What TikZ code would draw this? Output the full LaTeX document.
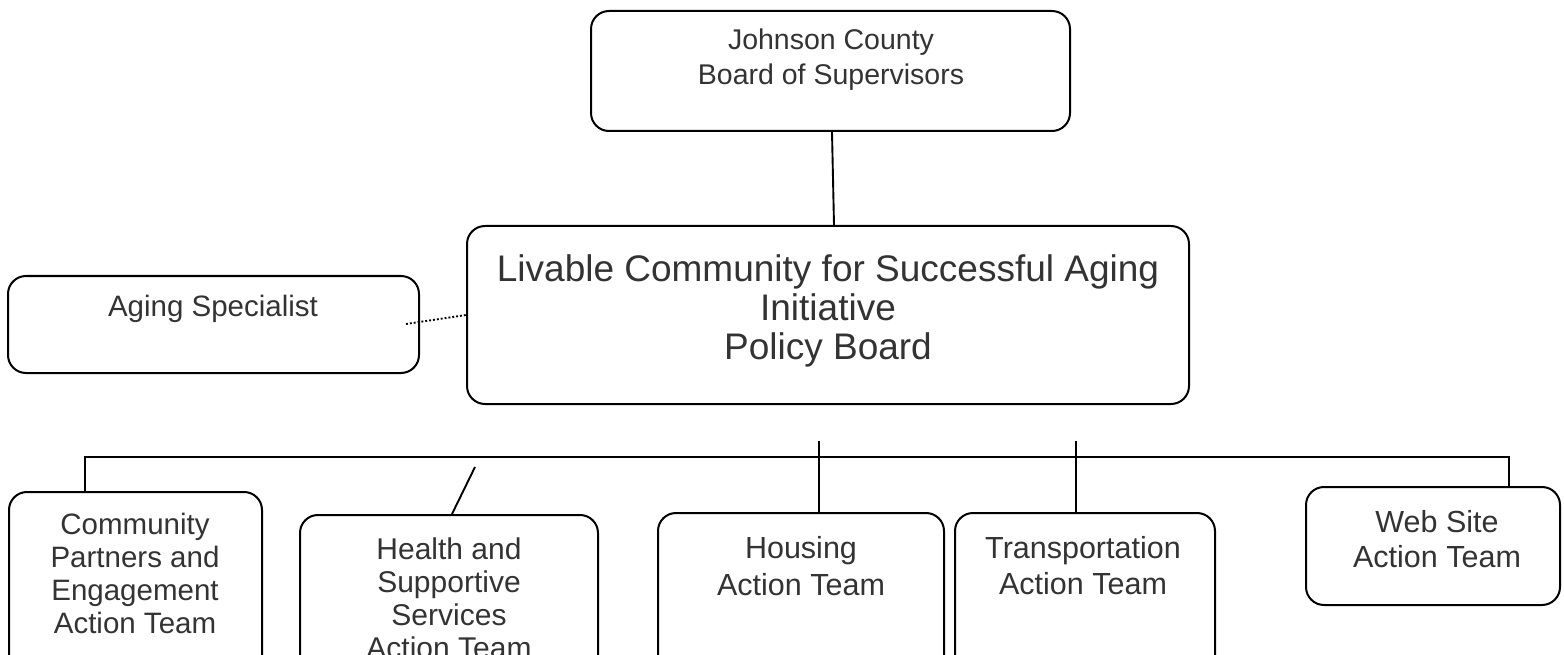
\documentclass[tikz,border=0pt]{standalone}
\usepackage{fontspec}
\setmainfont{Liberation Sans}
\usetikzlibrary{calc}
\begin{document}
\begin{tikzpicture}[x=1pt,y=-1pt,
  box/.style={draw=black, line width=2pt, rounded corners=18pt, inner sep=0pt},
  txt/.style={align=center, inner sep=0pt, text=black!80},
  conn/.style={draw=black, line width=1.9pt},
  dotconn/.style={draw=black, line width=1.9pt, dotted}]
\useasboundingbox (0,0) rectangle (1564,655);
\clip (0,0) rectangle (1564,655);
% boxes
\node[box, minimum width=479pt, minimum height=120pt] (jc) at (830.5,71) {};
\node[box, minimum width=722pt, minimum height=178pt] (pb) at (828,315) {};
\node[box, minimum width=411pt, minimum height=97pt] (as) at (213.5,324.5) {};
\node[box, minimum width=253pt, minimum height=190pt] (cp) at (135.5,587) {};
\node[box, minimum width=298pt, minimum height=180pt] (hs) at (449,605) {};
\node[box, minimum width=286pt, minimum height=180pt] (ho) at (801,603) {};
\node[box, minimum width=260pt, minimum height=180pt] (tr) at (1085,603) {};
\node[box, minimum width=254pt, minimum height=118pt] (ws) at (1433,546) {};
% texts
\node[txt, font=\fontsize{28.5}{35}\selectfont] (jct) at (831,59.5) {Johnson County\\Board of Supervisors};
\node[txt, font=\fontsize{37}{39}\selectfont] (pbt) at (828,311) {Livable Community for Successful Aging\\Initiative\\Policy Board};
\node[txt, font=\fontsize{29.5}{32}\selectfont] (ast) at (213,309) {Aging Specialist};
\node[txt, font=\fontsize{29.5}{33}\selectfont] (cpt) at (135,573.5) {Community\\Partners and\\Engagement\\Action Team};
\node[txt, font=\fontsize{30}{33}\selectfont] (hst) at (449,598.5) {Health and\\Supportive\\Services\\Action Team};
\node[txt, font=\fontsize{30.5}{37}\selectfont] (hot) at (801,566.5) {Housing\\Action Team};
\node[txt, font=\fontsize{30.5}{36}\selectfont] (trt) at (1083,566) {Transportation\\Action Team};
\node[txt, font=\fontsize{30.5}{35}\selectfont] (wst) at (1437,539.5) {Web Site\\Action Team};
% coordinates
\coordinate (busL) at (85,457);
\coordinate (busR) at (1509,457);
\coordinate (hoTop) at (819,441);
\coordinate (trTop) at (1076,441);
\coordinate (slash) at (475,467);
\coordinate (dotS) at (406,324);
% connectors
\draw[conn] ($(jc.south)+(1.5,0)$) -- ($(pb.north)+(6,0)$);
\draw[dotconn] (dotS) -- (pb.west);
\draw[conn] (busL |- cp.north) -- (busL) -- (busR) -- (busR |- ws.north);
\draw[conn] (hoTop) -- (hoTop |- ho.north);
\draw[conn] (trTop) -- (trTop |- tr.north);
\draw[conn] (slash) -- ($(hs.north)+(3,0)$);
\end{tikzpicture}
\end{document}
